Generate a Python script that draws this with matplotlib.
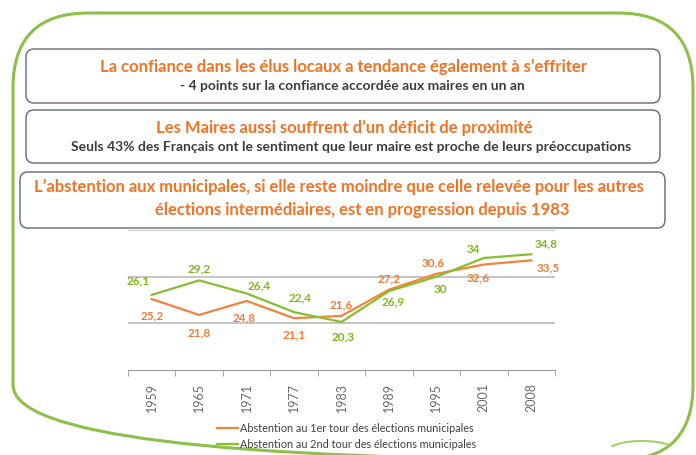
import matplotlib
matplotlib.use("Agg")
import matplotlib.pyplot as plt
from matplotlib.patches import FancyBboxPatch, Arc
import numpy as np

# Data
years = ['1959', '1965', '1971', '1977', '1983', '1989', '1995', '2001', '2008']
tour1 = [25.2, 21.8, 24.8, 21.1, 21.6, 27.2, 30.6, 32.6, 33.5]
tour2 = [26.1, 29.2, 26.4, 22.4, 20.3, 26.9, 30.0, 34.0, 34.8]
label1 = 'Abstention au 1er tour des élections municipales'
label2 = 'Abstention au 2nd tour des élections municipales'

# Label offsets in pixels (dx, dy with y going down)
off1 = [(0, 17), (0, 18), (-2, 17), (0, 17), (0, -11), (0, -11), (-3, -11), (-6, 13), (17, 8)]
off2 = [(-14, -14), (0, -12), (13, -8), (6, -14), (2, 15), (4, 11), (4, 13), (-10, -8), (15, -10)]

plt.rcParams['font.family'] = ['Lato', 'DejaVu Sans']

W, H = 696, 455
fig = plt.figure(figsize=(W / 100, H / 100), dpi=100)

# Overlay in pixel coords for the slide decorations
bg = fig.add_axes([0, 0, 1, 1])
bg.set_xlim(0, W)
bg.set_ylim(H, 0)
bg.axis('off')

green = '#8DC04A'
orange_t = '#F37325'
dark = '#3C3C3C'

frame = FancyBboxPatch((13 + 75, 13 + 75), 680 - 150, 447 - 150,
                       boxstyle='round,pad=75', fc='none', ec=green, lw=2.2, zorder=1)
bg.add_patch(frame)
# small swoosh bottom right
bg.add_patch(Arc((642, 452), 70, 22, theta1=190, theta2=345, color='#A6D06A', lw=1.5))

boxes = [(26, 49, 660, 103), (26, 110, 660, 163), (20, 172, 665, 228)]
for x0, y0, x1, y1 in boxes:
    bg.add_patch(FancyBboxPatch((x0 + 8, y0 + 8), x1 - x0 - 16, y1 - y0 - 16,
                                boxstyle='round,pad=8', fc='white', ec='#5E6A74', lw=1.0, zorder=2))

bg.text(344, 67, 'La confiance dans les élus locaux a tendance également à s’effriter',
        ha='center', va='center', color=orange_t, fontsize=12, fontweight='bold', zorder=3)
bg.text(352, 86, '- 4 points sur la confiance accordée aux maires en un an',
        ha='center', va='center', color=dark, fontsize=10, fontweight='bold', zorder=3)
bg.text(344, 128, 'Les Maires aussi souffrent d’un déficit de proximité',
        ha='center', va='center', color=orange_t, fontsize=12, fontweight='bold', zorder=3)
bg.text(351, 147, 'Seuls 43% des Français ont le sentiment que leur maire est proche de leurs préoccupations',
        ha='center', va='center', color=dark, fontsize=10, fontweight='bold', zorder=3)
bg.text(339, 187, 'L’abstention aux municipales, si elle reste moindre que celle relevée pour les autres',
        ha='center', va='center', color=orange_t, fontsize=12, fontweight='bold', zorder=3)
bg.text(362, 210, 'élections intermédiaires, est en progression depuis 1983',
        ha='center', va='center', color=orange_t, fontsize=12, fontweight='bold', zorder=3)

# Chart
ax = fig.add_axes([128 / W, 1 - 370 / H, 427 / W, 140 / H])
x = np.arange(len(years))
c1 = '#F5823A'
c2 = '#86BE2E'
l1, = ax.plot(x, tour1, color=c1, lw=1.6, label=label1, zorder=3)
l2, = ax.plot(x, tour2, color=c2, lw=1.6, label=label2, zorder=3)

for i in range(len(years)):
    ax.annotate(f'{tour1[i]:g}'.replace('.', ','), (x[i], tour1[i]),
                xytext=(off1[i][0] * 0.72, -off1[i][1] * 0.72), textcoords='offset points',
                ha='center', va='center', color='#F47B36', fontsize=8.5, fontweight='bold')
    ax.annotate(f'{tour2[i]:g}'.replace('.', ','), (x[i], tour2[i]),
                xytext=(off2[i][0] * 0.72, -off2[i][1] * 0.72), textcoords='offset points',
                ha='center', va='center', color='#7FB81E', fontsize=8.5, fontweight='bold')

ax.set_xlim(-0.5, len(years) - 0.5)
ax.set_ylim(10, 40)
ax.set_yticks([20, 30, 40])
ax.yaxis.grid(True, color='#C0C0C0', lw=1.3)
ax.tick_params(axis='y', length=0, labelleft=False)
for s in ['top', 'left', 'right']:
    ax.spines[s].set_visible(False)
ax.spines['bottom'].set_color('#9A9A9A')
ax.set_xticks(x)
ax.set_xticklabels(years, rotation=90, color='#6A6A6A', fontsize=9)
ax.set_xticks(np.arange(-0.5, len(years)), minor=True)
ax.tick_params(axis='x', which='major', length=0, pad=9)
ax.tick_params(axis='x', which='minor', length=4, color='#9A9A9A')
ax.set_axisbelow(True)

fig.legend(handles=[l1, l2], loc='upper left', bbox_to_anchor=(207 / W, 1 - 413 / H),
           frameon=False, fontsize=7.8, handlelength=2.0, handletextpad=0.15,
           labelspacing=0.45, labelcolor='#404040')

fig.savefig('out.png', dpi=100)
